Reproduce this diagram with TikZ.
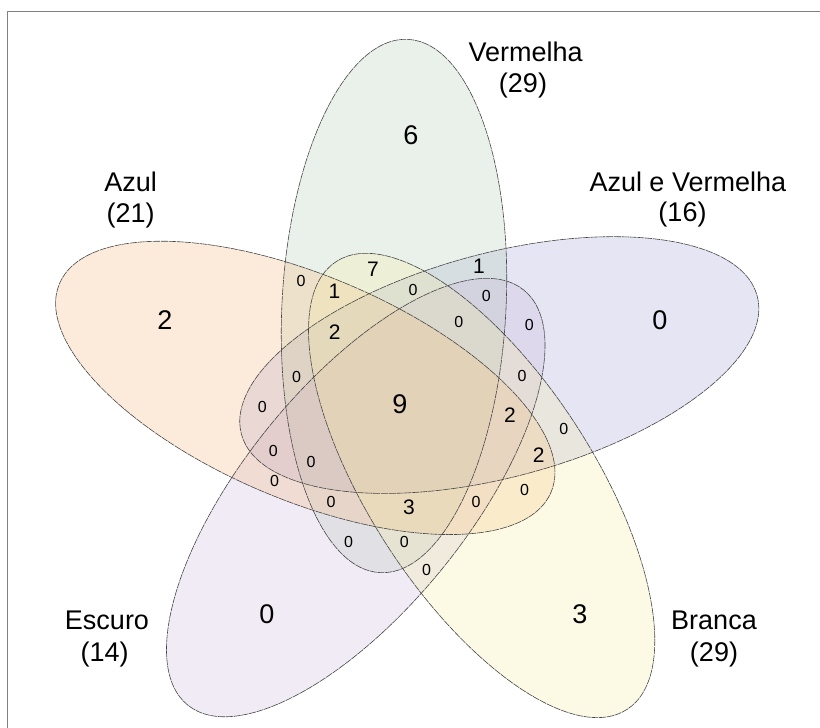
\documentclass[tikz,border=0pt]{standalone}
\usepackage{fontspec}
\setmainfont{Liberation Sans}
\definecolor{cGreen}{RGB}{175,203,175}
\definecolor{cOrange}{RGB}{247,179,115}
\definecolor{cBlue}{RGB}{155,155,215}
\definecolor{cPurple}{RGB}{199,179,215}
\definecolor{cYellow}{RGB}{247,235,155}
\definecolor{cLine}{RGB}{70,70,70}
\begin{document}
\begin{tikzpicture}[x=1pt,y=1pt,
  vennfill/.style={fill opacity=0.25},
  vennline/.style={draw=cLine, line width=0.6pt, dash pattern=on 7pt off 0.8pt},
  base/.style={shift={(394,422)}, rotate=-3},
  eG/.style={base},
  eO/.style={rotate around={-2:(305.3,340.1)}, rotate around={72:(406,320)}, base},
  eP/.style={rotate around={144:(406,320)}, base},
  eY/.style={shift={(6,-2)}, rotate around={216:(406,320)}, base},
  eB/.style={rotate around={288:(406,320)}, base},
  big/.style={font=\fontsize{27}{32}\selectfont, inner sep=0pt},
  mid/.style={font=\fontsize{21}{25}\selectfont, inner sep=0pt},
  small/.style={font=\fontsize{16}{19}\selectfont, inner sep=0pt},
  setlabel/.style={font=\fontsize{27}{32}\selectfont, inner sep=0pt}]
\useasboundingbox (0,0) rectangle (820,728);
\fill[white] (0,0) rectangle (820,728);
\draw[gray, line width=1.5pt] (7.3,0) -- (7.3,716.3) -- (820,716.3);
% fills
\path[eB, vennfill, fill=cBlue] (0,0) ellipse [x radius=112, y radius=267];
\path[eG, vennfill, fill=cGreen] (0,0) ellipse [x radius=112, y radius=267];
\path[eP, vennfill, fill=cPurple] (0,0) ellipse [x radius=112, y radius=267];
\path[eO, vennfill, fill=cOrange] (0,0) ellipse [x radius=112, y radius=267];
\path[eY, vennfill, fill=cYellow] (0,0) ellipse [x radius=112, y radius=267];
% outlines
\path[eB, vennline] (0,0) ellipse [x radius=112, y radius=267];
\path[eG, vennline] (0,0) ellipse [x radius=112, y radius=267];
\path[eP, vennline] (0,0) ellipse [x radius=112, y radius=267];
\path[eO, vennline] (0,0) ellipse [x radius=112, y radius=267];
\path[eY, vennline] (0,0) ellipse [x radius=112, y radius=267];
% set labels
\node[setlabel] (lv) at (525.6,676) {Vermelha};
\node[setlabel] (lvn) at (523,642) {(29)};
\node[setlabel] (la) at (130.7,546) {Azul};
\node[setlabel] (lan) at (130.7,512) {(21)};
\node[setlabel] (lav) at (687.8,546) {Azul e Vermelha};
\node[setlabel] (lavn) at (682.5,513.5) {(16)};
\node[setlabel] (le) at (107,108) {Escuro};
\node[setlabel] (len) at (104.6,73.4) {(14)};
\node[setlabel] (lb) at (714,108) {Branca};
\node[setlabel] (lbn) at (714,73.4) {(29)};
% large counts
\node[big] (b1) at (411,593) {6};
\node[big] (b2) at (165,408) {2};
\node[big] (b3) at (660,408) {0};
\node[big] (b4) at (400,324) {9};
\node[big] (b5) at (267,114) {0};
\node[big] (b6) at (580,114) {3};
% medium counts
\node[mid] (m1) at (373,459) {7};
\node[mid] (m2) at (479,462) {1};
\node[mid] (m3) at (334.5,436.5) {1};
\node[mid] (m4) at (334.7,396) {2};
\node[mid] (m5) at (510,312.5) {2};
\node[mid] (m6) at (538.7,273) {2};
\node[mid] (m7) at (409,220.6) {3};
% small counts
\node[small] (s1) at (301,447) {0};
\node[small] (s2) at (413,438) {0};
\node[small] (s3) at (486.2,432.5) {0};
\node[small] (s4) at (458.7,406) {0};
\node[small] (s5) at (529.2,403) {0};
\node[small] (s6) at (296.6,351) {0};
\node[small] (s7) at (522,352) {0};
\node[small] (s8) at (262.4,321) {0};
\node[small] (s9) at (563.8,298.6) {0};
\node[small] (s10) at (273.2,277.5) {0};
\node[small] (s11) at (311,266) {0};
\node[small] (s12) at (274.5,247) {0};
\node[small] (s13) at (524.6,238.2) {0};
\node[small] (s14) at (331,226) {0};
\node[small] (s15) at (476,226.5) {0};
\node[small] (s16) at (348.5,186) {0};
\node[small] (s17) at (404.3,186.5) {0};
\node[small] (s18) at (426.5,158) {0};
\end{tikzpicture}
\end{document}
